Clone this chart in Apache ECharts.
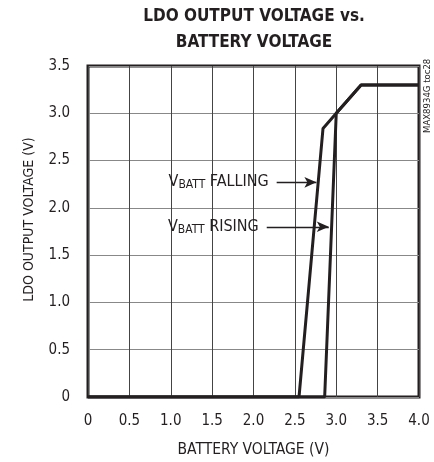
<!DOCTYPE html>
<html>
<head>
<meta charset="utf-8">
<script src="https://cdn.jsdelivr.net/npm/echarts@6/dist/echarts.min.js"></script>
<style>
  html, body { margin: 0; padding: 0; background: #fff; }
  #chart { width: 434px; height: 462px; }
</style>
</head>
<body>
<div id="chart"></div>
<script>
// curve data
const fallingX = [0, 2.55, 2.84, 3.0, 3.3, 4.0];
const fallingY = [0, 0, 2.84, 3.0, 3.3, 3.3];
const risingX = [0, 2.86, 3.0, 3.3, 4.0];
const risingY = [0, 0, 3.0, 3.3, 3.3];

const xTicks = ['0', '0.5', '1.0', '1.5', '2.0', '2.5', '3.0', '3.5', '4.0'];
const yTicks = ['0', '0.5', '1.0', '1.5', '2.0', '2.5', '3.0', '3.5'];

// annotation arrows: [x start, x end, y]
const fallArrow = [2.28, 2.76, 2.27];
const riseArrow = [2.16, 2.91, 1.80];

const FONT = '"Liberation Sans Narrow", "DejaVu Sans Condensed", sans-serif';
const INK = '#231f20';

const pairs = (xs, ys) => xs.map((x, i) => [x, ys[i]]);

const richText = {
  v: { fontFamily: FONT, fontSize: 16, color: INK },
  s: { fontFamily: FONT, fontSize: 12, color: INK, padding: [6, 0, 0, 0] }
};

function arrow(a, name) {
  return {
    silent: true,
    symbol: ['none', 'arrow'],
    symbolSize: [8, 12],
    lineStyle: { color: INK, width: 1.3, type: 'solid' },
    label: {
      show: true,
      position: 'start',
      distance: 8,
      formatter: '{v|V}{s|BATT}{v| ' + name + '}',
      rich: richText
    },
    data: [[{ coord: [a[0], a[2]] }, { coord: [a[1], a[2]] }]]
  };
}

const chart = echarts.init(document.getElementById('chart'));

chart.setOption({
  animation: false,
  title: {
    text: 'LDO OUTPUT VOLTAGE vs.\nBATTERY VOLTAGE',
    left: 249,
    top: -1,
    textAlign: 'center',
    textStyle: {
      fontFamily: FONT,
      fontSize: 17,
      fontWeight: 'bold',
      color: INK,
      lineHeight: 26
    }
  },
  grid: {
    left: 88, right: 15, top: 66, bottom: 65,
    outerBoundsMode: 'none',
    show: true,
    borderColor: INK,
    borderWidth: 3
  },
  xAxis: {
    type: 'value',
    min: 0, max: 4, interval: 0.5,
    name: 'BATTERY VOLTAGE (V)',
    nameLocation: 'middle',
    nameGap: 45,
    nameTextStyle: { fontFamily: FONT, fontSize: 15.5, color: INK },
    axisLine: { show: false },
    axisTick: { show: false },
    axisLabel: {
      margin: 17,
      fontFamily: FONT, fontSize: 15, color: INK,
      formatter: (v, i) => xTicks[i]
    },
    splitLine: { lineStyle: { color: '#444', width: 1 } }
  },
  yAxis: {
    type: 'value',
    min: 0, max: 3.5, interval: 0.5,
    name: 'LDO OUTPUT VOLTAGE (V)',
    nameLocation: 'middle',
    nameGap: 52,
    nameTextStyle: { fontFamily: FONT, fontSize: 14, color: INK, padding: [0, 0, 0, 24] },
    axisLine: { show: false },
    axisTick: { show: false },
    axisLabel: {
      margin: 18,
      fontFamily: FONT, fontSize: 15, color: INK,
      formatter: (v, i) => yTicks[i]
    },
    splitLine: { lineStyle: { color: '#888', width: 1 } }
  },
  series: [
    {
      name: 'falling',
      type: 'line',
      data: pairs(fallingX, fallingY),
      symbol: 'none',
      lineStyle: { color: INK, width: 3 },
      markLine: arrow(fallArrow, 'FALLING')
    },
    {
      name: 'rising',
      type: 'line',
      data: pairs(risingX, risingY),
      symbol: 'none',
      lineStyle: { color: INK, width: 3 },
      markLine: arrow(riseArrow, 'RISING')
    }
  ],
  graphic: [
    {
      type: 'text',
      x: 423,
      y: 133,
      rotation: Math.PI / 2,
      style: {
        text: 'MAX8934G toc28',
        fontFamily: FONT,
        fontSize: 9.5,
        fill: INK
      }
    }
  ]
});
</script>
</body>
</html>
